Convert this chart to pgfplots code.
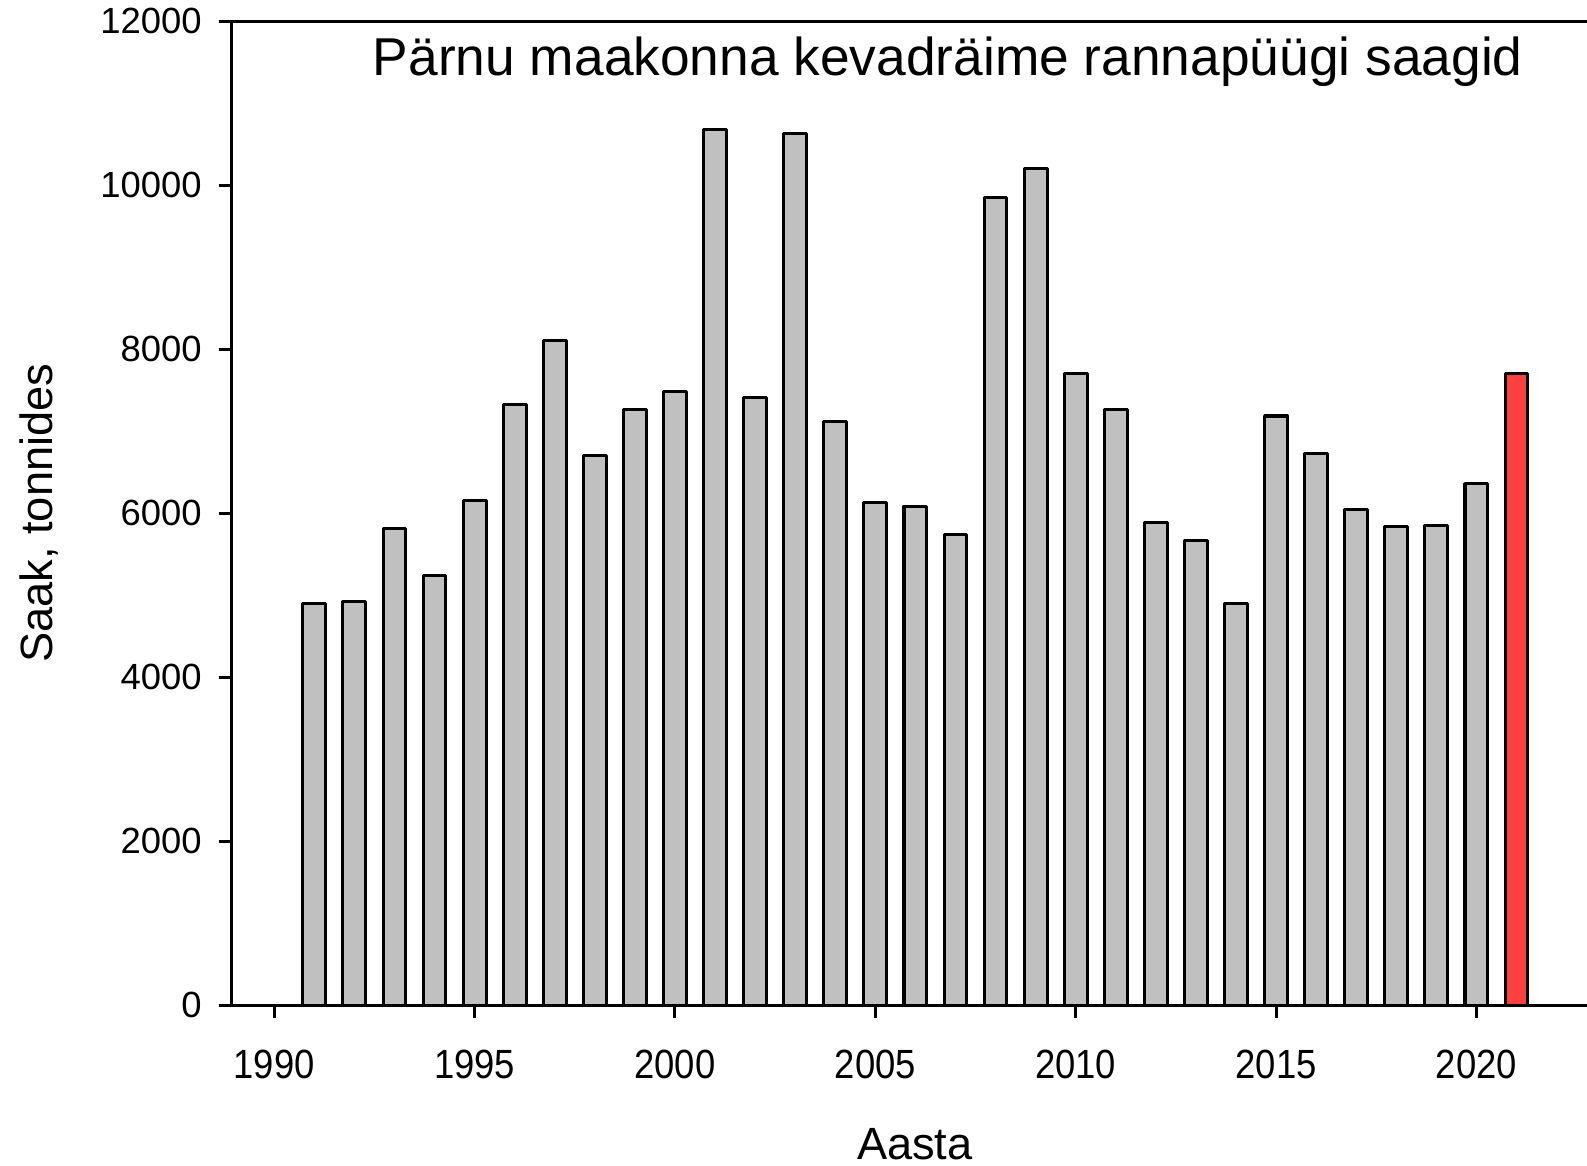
\documentclass[border=0pt]{standalone}
\usepackage{fontspec}
\setmainfont{Liberation Sans}
\usepackage{pgfplots}
\pgfplotsset{compat=1.18}

\definecolor{bargray}{HTML}{C0C0C0}
\definecolor{barred}{HTML}{FF4040}

\begin{document}
\begin{tikzpicture}
\useasboundingbox (-68.7pt,-47.7pt) rectangle (401.7pt,297.9pt);
\begin{axis}[
    at={(0,0)}, anchor=south west,
    scale only axis, width=401.7pt, height=291.6pt,
    axis y line*=left,
    xmin=1988.94, xmax=2022.76, ymin=0, ymax=12000,
    xtick={1990,1995,...,2020}, ytick={0,2000,...,12000},
    scaled y ticks=false,
    xtick pos=left, tick align=outside, major tick length=3.9pt,
    axis line style={line width=0.9pt}, every tick/.style={black, line width=0.9pt},
    /pgf/number format/1000 sep={}, /pgf/number format/assume math mode=true,
    ticklabel style={font=\fontsize{10.8}{12}\selectfont},
    xticklabel style={yshift=-5.5pt, yscale=1.12},
    yticklabel style={xshift=-1.5pt},
    ybar, bar shift=0pt, bar width=0.57,
    clip=false,
    every axis x label/.style={at={(axis description cs:0.504,0)}, anchor=base, yshift=-45.8pt},
    every axis y label/.style={at={(axis description cs:-0.1426,0.5)}, rotate=90, anchor=center},
    label style={font=\fontsize{13.4}{16}\selectfont},
    xlabel={Aasta}, ylabel={Saak, tonnides},
]
\addplot[draw=black, line width=0.9pt, fill=bargray, line join=round] coordinates {
    (1991,4900) (1992,4920) (1993,5810) (1994,5235) (1995,6150)
    (1996,7320) (1997,8110) (1998,6705) (1999,7260) (2000,7480)
    (2001,10680) (2002,7410) (2003,10630) (2004,7120) (2005,6125)
    (2006,6085) (2007,5740) (2008,9850) (2009,10200) (2010,7700)
    (2011,7270) (2012,5890) (2013,5665) (2014,4900) (2015,7185)
    (2016,6730) (2017,6050) (2018,5840) (2019,5850) (2020,6360)
};
\addplot[draw=black, line width=0.9pt, fill=barred, line join=round] coordinates {(2021,7705)};
\node[anchor=base, font=\fontsize{15.8}{19}\selectfont] at (rel axis cs:0.5284,1) [yshift=-16.2pt] {Pärnu maakonna kevadräime rannapüügi saagid};
\end{axis}
\end{tikzpicture}
\end{document}
